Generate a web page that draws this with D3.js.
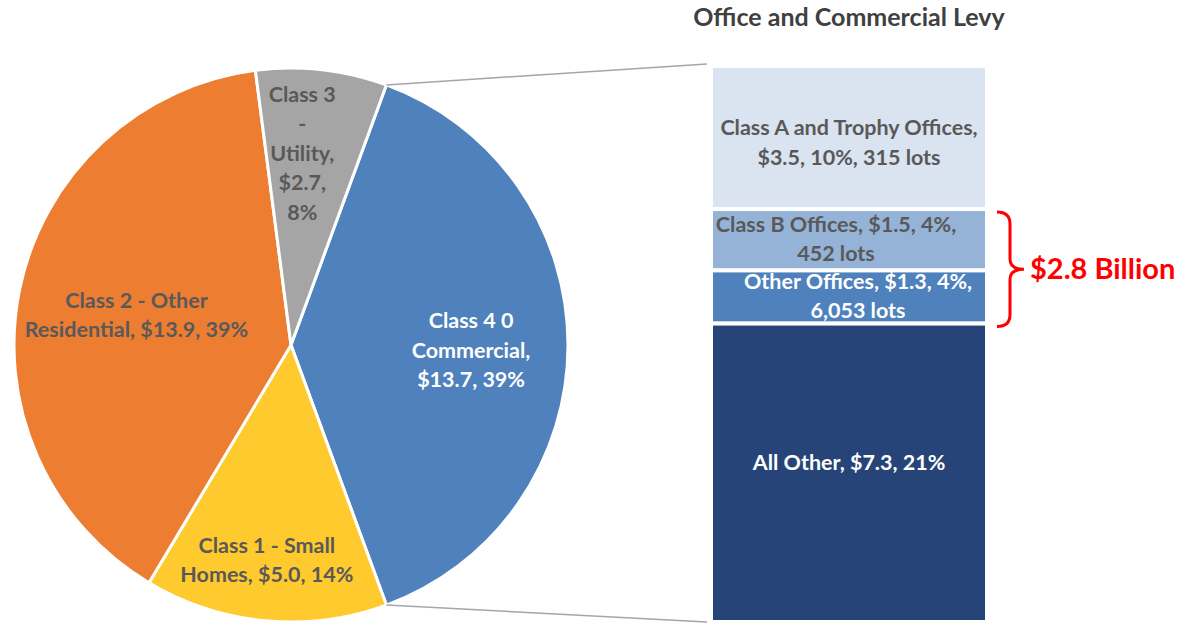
<!DOCTYPE html>
<html>
<head>
<meta charset="utf-8">
<style>
  body { margin: 0; background: #fff; }
  svg { display: block; font-family: Lato, "Open Sans", sans-serif; font-weight: bold; }
</style>
</head>
<body>
<div id="chart"></div>
<script src="https://d3js.org/d3.v7.min.js"></script>
<script>
// pie: property classes ($ billions)
const pieNames = ["Class 4 0 Commercial", "Class 1 - Small Homes", "Class 2 - Other Residential", "Class 3 - Utility"];
const pieValues = [13.7, 5.0, 13.9, 2.7];
const pieLabels = [
  ["Class 4 0", "Commercial,", "$13.7, 39%"],
  ["Class 1 - Small", "Homes, $5.0, 14%"],
  ["Class 2 - Other", "Residential, $13.9, 39%"],
  ["Class 3", "-", "Utility,", "$2.7,", "8%"]
];
const pieColors = ["#4f81bd", "#ffca2e", "#ed7d31", "#a5a5a5"];
const pieTextColors = ["#ffffff", "#595959", "#595959", "#595959"];
const pieLabelPos = [0.65, 0.78, 0.57, 0.69];
const pieLabelNudge = [[0, 5], [-4, 0], [0, 2], [-10, -2]];

// bar: breakdown of Class 4 commercial
const barNames = ["Class A and Trophy Offices", "Class B Offices", "Other Offices", "All Other"];
const barValues = [3.5, 1.5, 1.3, 7.3];
const barLabels = [
  ["Class A and Trophy Offices,", "$3.5, 10%, 315 lots"],
  ["Class B Offices, $1.5, 4%,", "452 lots"],
  ["Other Offices, $1.3, 4%,", "6,053 lots"],
  ["All Other, $7.3, 21%"]
];
const barColors = ["#dae3f0", "#95b3d7", "#4f81bd", "#264478"];
const barTextColors = ["#595959", "#595959", "#ffffff", "#ffffff"];
const barTextNudge = [[0, 5], [-13, -1], [9, -1], [0, -10]];

const width = 1183, height = 624;
const cx = 291, cy = 345, r = 277;
const barX0 = 711, barX1 = 987, barTop = 66, barBottom = 622;
const lineH = 29.5;
const fontSize = 21.5;

const svg = d3.select("#chart").append("svg")
    .attr("width", width)
    .attr("height", height);

const total = d3.sum(pieValues);
const half = pieValues[0] / total * Math.PI;
const start = Math.PI / 2 - half;

const pie = d3.pie().sort(null).value(d => d)
    .startAngle(start).endAngle(start + 2 * Math.PI);
const arcs = pie(pieValues);
const arc = d3.arc().innerRadius(0).outerRadius(r);

const g = svg.append("g").attr("transform", `translate(${cx},${cy})`);

g.selectAll("path")
  .data(arcs)
  .join("path")
    .attr("d", arc)
    .attr("fill", (d, i) => pieColors[i])
    .attr("stroke", "#fff")
    .attr("stroke-width", 3)
    .attr("stroke-linejoin", "round");

g.selectAll("text.pl")
  .data(arcs)
  .join("text")
    .attr("class", "pl")
    .attr("text-anchor", "middle")
    .attr("font-size", fontSize)
    .attr("fill", (d, i) => pieTextColors[i])
    .each(function(d, i) {
      const a = (d.startAngle + d.endAngle) / 2;
      const rr = r * pieLabelPos[i];
      const x = Math.sin(a) * rr + pieLabelNudge[i][0];
      const y = -Math.cos(a) * rr + pieLabelNudge[i][1];
      const lines = pieLabels[i];
      const y0 = y - (lines.length - 1) * lineH / 2;
      d3.select(this).selectAll("tspan")
        .data(lines)
        .join("tspan")
          .attr("x", x)
          .attr("y", (l, j) => y0 + j * lineH)
          .attr("dy", "0.35em")
          .text(l => l);
    });

// bar of pie
const y = d3.scaleLinear()
    .domain([0, d3.sum(barValues)])
    .range([barTop, barBottom]);
const cum = d3.cumsum(barValues);
const segs = barValues.map((v, i) => ({ v, y0: cum[i] - v, y1: cum[i], i }));

svg.append("g").selectAll("rect")
  .data(segs)
  .join("rect")
    .attr("x", barX0)
    .attr("width", barX1 - barX0)
    .attr("y", d => y(d.y0))
    .attr("height", d => y(d.y1) - y(d.y0))
    .attr("fill", d => barColors[d.i])
    .attr("stroke", "#fff")
    .attr("stroke-width", 4);

svg.append("g").selectAll("text")
  .data(segs)
  .join("text")
    .attr("text-anchor", "middle")
    .attr("font-size", fontSize)
    .attr("fill", d => barTextColors[d.i])
    .each(function(d) {
      const mid = (y(d.y0) + y(d.y1)) / 2 + barTextNudge[d.i][1];
      const lines = barLabels[d.i];
      const y0 = mid - (lines.length - 1) * lineH / 2;
      const x = (barX0 + barX1) / 2 + barTextNudge[d.i][0];
      d3.select(this).selectAll("tspan")
        .data(lines)
        .join("tspan")
          .attr("x", x)
          .attr("y", (l, j) => y0 + j * lineH)
          .attr("dy", "0.35em")
          .text(l => l);
    });

// connector lines
const s = arcs[0];
const p1 = [cx + Math.sin(s.startAngle) * r, cy - Math.cos(s.startAngle) * r];
const p2 = [cx + Math.sin(s.endAngle) * r, cy - Math.cos(s.endAngle) * r];
svg.append("line")
    .attr("x1", p1[0]).attr("y1", p1[1])
    .attr("x2", barX0 - 4).attr("y2", barTop - 2)
    .attr("stroke", "#a6a6a6").attr("stroke-width", 1.5);
svg.append("line")
    .attr("x1", p2[0]).attr("y1", p2[1])
    .attr("x2", barX0 - 4).attr("y2", barBottom)
    .attr("stroke", "#a6a6a6").attr("stroke-width", 1.5);

// title
svg.append("text")
    .attr("x", (barX0 + barX1) / 2)
    .attr("y", 26)
    .attr("text-anchor", "middle")
    .attr("font-size", 25)
    .attr("fill", "#404040")
    .text("Office and Commercial Levy");

// brace around Class B + Other Offices
const bTop = y(segs[1].y0) + 3, bBot = y(segs[2].y1) + 3;
const bMid = (bTop + bBot) / 2;
const bx = 1010;
svg.append("path")
    .attr("d", `M${bx - 13},${bTop} Q${bx},${bTop} ${bx},${bTop + 12}
                L${bx},${bMid - 10} Q${bx},${bMid} ${bx + 14},${bMid}
                Q${bx},${bMid} ${bx},${bMid + 10}
                L${bx},${bBot - 12} Q${bx},${bBot} ${bx - 13},${bBot}`)
    .attr("fill", "none")
    .attr("stroke", "#ff0000")
    .attr("stroke-width", 3);

svg.append("text")
    .attr("x", bx + 20)
    .attr("y", bMid + 10)
    .attr("font-size", 29)
    .attr("fill", "#ff0000")
    .text("$2.8 Billion");
</script>
</body>
</html>
